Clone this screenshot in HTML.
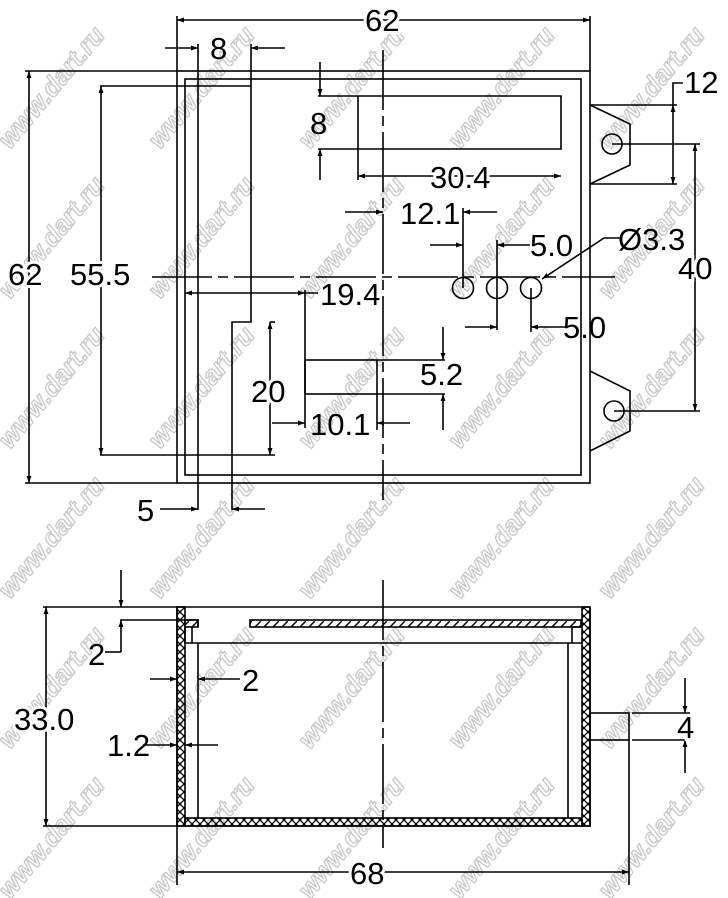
<!DOCTYPE html>
<html><head><meta charset="utf-8"><style>
html,body{margin:0;padding:0;background:#fff;}
svg{display:block;}
text{font-family:"Liberation Sans",sans-serif;font-size:31px;fill:#000;}
.t{paint-order:stroke;stroke:#fff;stroke-width:6px;}
.wm{font-size:26px;font-weight:bold;fill:#fff;stroke:#c8c8c8;stroke-width:1.3px;font-style:italic;}
</style></head><body>
<svg width="728" height="898" viewBox="0 0 728 898" xmlns="http://www.w3.org/2000/svg">
<defs>
<marker id="a" viewBox="0 0 10 10" refX="10" refY="5" markerWidth="14" markerHeight="7" markerUnits="userSpaceOnUse" orient="auto-start-reverse"><path d="M0,1.5 L10,5 L0,8.5 z" fill="#000"/></marker>
<pattern id="xh" width="8" height="8" patternUnits="userSpaceOnUse"><path d="M0,0 L8,8 M8,0 L0,8" stroke="#000" stroke-width="1.3"/></pattern>
<pattern id="dh" width="9" height="9" patternUnits="userSpaceOnUse"><path d="M0,9 L9,0" stroke="#000" stroke-width="1.5"/></pattern>
</defs>

<g>
<text class="wm" transform="translate(10,150) rotate(-50)">www.dart.ru</text>
<text class="wm" transform="translate(160,150) rotate(-50)">www.dart.ru</text>
<text class="wm" transform="translate(310,150) rotate(-50)">www.dart.ru</text>
<text class="wm" transform="translate(460,150) rotate(-50)">www.dart.ru</text>
<text class="wm" transform="translate(610,150) rotate(-50)">www.dart.ru</text>
<text class="wm" transform="translate(10,300) rotate(-50)">www.dart.ru</text>
<text class="wm" transform="translate(160,300) rotate(-50)">www.dart.ru</text>
<text class="wm" transform="translate(310,300) rotate(-50)">www.dart.ru</text>
<text class="wm" transform="translate(460,300) rotate(-50)">www.dart.ru</text>
<text class="wm" transform="translate(610,300) rotate(-50)">www.dart.ru</text>
<text class="wm" transform="translate(10,450) rotate(-50)">www.dart.ru</text>
<text class="wm" transform="translate(160,450) rotate(-50)">www.dart.ru</text>
<text class="wm" transform="translate(310,450) rotate(-50)">www.dart.ru</text>
<text class="wm" transform="translate(460,450) rotate(-50)">www.dart.ru</text>
<text class="wm" transform="translate(610,450) rotate(-50)">www.dart.ru</text>
<text class="wm" transform="translate(10,600) rotate(-50)">www.dart.ru</text>
<text class="wm" transform="translate(160,600) rotate(-50)">www.dart.ru</text>
<text class="wm" transform="translate(310,600) rotate(-50)">www.dart.ru</text>
<text class="wm" transform="translate(460,600) rotate(-50)">www.dart.ru</text>
<text class="wm" transform="translate(610,600) rotate(-50)">www.dart.ru</text>
<text class="wm" transform="translate(10,750) rotate(-50)">www.dart.ru</text>
<text class="wm" transform="translate(160,750) rotate(-50)">www.dart.ru</text>
<text class="wm" transform="translate(310,750) rotate(-50)">www.dart.ru</text>
<text class="wm" transform="translate(460,750) rotate(-50)">www.dart.ru</text>
<text class="wm" transform="translate(610,750) rotate(-50)">www.dart.ru</text>
<text class="wm" transform="translate(10,900) rotate(-50)">www.dart.ru</text>
<text class="wm" transform="translate(160,900) rotate(-50)">www.dart.ru</text>
<text class="wm" transform="translate(310,900) rotate(-50)">www.dart.ru</text>
<text class="wm" transform="translate(460,900) rotate(-50)">www.dart.ru</text>
<text class="wm" transform="translate(610,900) rotate(-50)">www.dart.ru</text>
</g>

<g stroke="#000" stroke-width="1.6" fill="none">
<rect x="177" y="71" width="413" height="412"/>
<rect x="185" y="79" width="396" height="396"/>
<path d="M152,277 H615" stroke-dasharray="60,6,10,6"/>
<path d="M383,50 V500" stroke-dasharray="60,6,10,6"/>
<path d="M100,86 H251 V322 H232 V510"/>
<path d="M100,455 H275"/>
<path d="M198,44 V510"/>
<path d="M251,44 V86"/>
<path d="M270,322 H275"/>
<path d="M177,16 V71 M590,16 V71"/>
<path d="M177,20 H590" marker-start="url(#a)" marker-end="url(#a)"/>
<path d="M165,48 H198" marker-end="url(#a)"/>
<path d="M285,48 H251" marker-end="url(#a)"/>
<path d="M160,509 H198" marker-end="url(#a)"/>
<path d="M265,509 H232" marker-end="url(#a)"/>
<path d="M25,71 H177 M25,483 H177"/>
<path d="M29,71 V483" marker-start="url(#a)" marker-end="url(#a)"/>
<path d="M101,86 V455" marker-start="url(#a)" marker-end="url(#a)"/>
<path d="M318,96 H561 V149 H318 M358,96 V180"/>
<path d="M320,62 V96" marker-end="url(#a)"/>
<path d="M320,180 V149" marker-end="url(#a)"/>
<path d="M358,176 H561" marker-start="url(#a)" marker-end="url(#a)"/>
<path d="M345,212 H383" marker-end="url(#a)"/>
<path d="M497,212 H463" marker-end="url(#a)"/>
<path d="M463,208 V288 M497,240 V330 M531,288 V332"/>
<path d="M430,245 H463" marker-end="url(#a)"/>
<path d="M530,245 H497" marker-end="url(#a)"/>
<path d="M465,327 H497" marker-end="url(#a)"/>
<path d="M565,327 H531" marker-end="url(#a)"/>
<circle cx="463" cy="288" r="10.5"/>
<circle cx="497" cy="288" r="10.5"/>
<circle cx="531" cy="288" r="10.5"/>
<path d="M620,238 H604 L542,279" marker-end="url(#a)"/>
<path d="M590,105 L630,124 V165 L590,184"/>
<circle cx="612" cy="144" r="10"/>
<path d="M590,371 L630,391 V431 L590,451"/>
<circle cx="614" cy="411" r="10"/>
<path d="M590,105 H677 M590,184 H677"/>
<path d="M673,145 V105" marker-end="url(#a)"/>
<path d="M673,145 V184" marker-end="url(#a)"/>
<path d="M673,105 V83 H683"/>
<path d="M612,144 H700 M614,411 H700"/>
<path d="M695,144 V411" marker-start="url(#a)" marker-end="url(#a)"/>
<path d="M185,293 H305" marker-start="url(#a)" marker-end="url(#a)"/>
<path d="M305,290 V428 M305,293 H318"/>
<rect x="305" y="360" width="72" height="34"/>
<path d="M270,322 V455" marker-start="url(#a)" marker-end="url(#a)"/>
<path d="M272,423 H305" marker-end="url(#a)"/>
<path d="M410,423 H377" marker-end="url(#a)"/>
<path d="M377,394 V430"/>
<path d="M377,360 H445 M377,394 H445"/>
<path d="M443,327 V360" marker-end="url(#a)"/>
<path d="M443,430 V394" marker-end="url(#a)"/>

<path d="M43,607 H590 M43,826 H177"/>
<rect x="177" y="607" width="8" height="219" fill="url(#xh)"/>
<rect x="582" y="607" width="8" height="219" fill="url(#xh)"/>
<rect x="185" y="818" width="397" height="8" fill="url(#xh)"/>
<path d="M177,607 V826 H590 V607"/>
<path d="M198,643 V818 M568,643 V818 M185,643 H582"/>
<rect x="250" y="620" width="331" height="7" fill="url(#dh)"/>
<path d="M572,627 V643 M572,627 H581"/>
<path d="M120,620 H198 V627 M185,627 V643 M192,627 V643"/>
<rect x="185" y="620" width="13" height="7" fill="url(#dh)"/>
<path d="M383,580 V848" stroke-dasharray="60,6,10,6"/>
<path d="M46,607 V826" marker-start="url(#a)" marker-end="url(#a)"/>
<path d="M121,570 V607" marker-end="url(#a)"/>
<path d="M121,652 V620" marker-end="url(#a)"/>
<path d="M121,652 H105"/>
<path d="M150,679 H177" marker-end="url(#a)"/>
<path d="M240,679 H198" marker-end="url(#a)"/>
<path d="M143,745 H177" marker-end="url(#a)"/>
<path d="M218,745 H185" marker-end="url(#a)"/>
<rect x="590" y="713" width="39" height="27"/>
<path d="M632,713 H690 M632,740 H690"/>
<path d="M685,678 V713" marker-end="url(#a)"/>
<path d="M685,773 V740" marker-end="url(#a)"/>
<path d="M177,826 V885 M629,740 V885"/>
<path d="M177,872 H629" marker-start="url(#a)" marker-end="url(#a)"/>
</g>

<g>
<text class="t" x="365" y="31">62</text>
<text x="210" y="59">8</text>
<text class="t" x="8" y="285">62</text>
<text class="t" x="70" y="285">55.5</text>
<text x="310" y="134">8</text>
<text class="t" x="430" y="188">30.4</text>
<text x="400" y="224">12.1</text>
<text x="530" y="256">5.0</text>
<text x="563" y="338">5.0</text>
<text x="618" y="250">Ø3.3</text>
<text x="684" y="93">12</text>
<text class="t" x="678" y="279">40</text>
<text x="320" y="305">19.4</text>
<text class="t" x="251" y="402">20</text>
<text x="310" y="435">10.1</text>
<text x="420" y="385">5.2</text>
<text x="137" y="521">5</text>
<text class="t" x="14" y="730">33.0</text>
<text x="88" y="665">2</text>
<text x="242" y="691">2</text>
<text x="107" y="756">1.2</text>
<text class="t" x="677" y="738">4</text>
<text class="t" x="350" y="884">68</text>
</g>
</svg>
</body></html>
